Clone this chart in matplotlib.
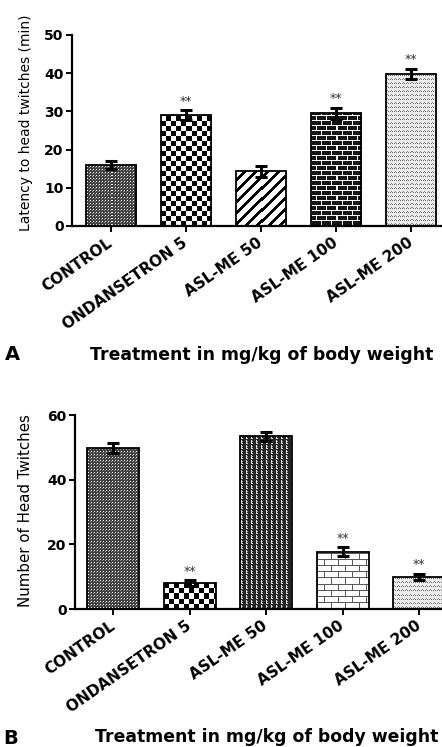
import matplotlib
matplotlib.use("Agg")
import matplotlib.pyplot as plt
import numpy as np

# data
groups = ["CONTROL", "ONDANSETRON 5", "ASL-ME 50", "ASL-ME 100", "ASL-ME 200"]

latency_mean = [16.0, 29.0, 14.3, 29.5, 39.8]
latency_sem = [1.0, 1.3, 1.5, 1.5, 1.4]
latency_sig = ["", "**", "", "**", "**"]

twitch_mean = [49.7, 8.1, 53.4, 17.7, 10.0]
twitch_sem = [1.5, 0.9, 1.4, 1.4, 0.9]
twitch_sig = ["", "**", "", "**", "**"]

patterns_a = ["fine", "checker", "diag", "brick_dark", "wavy"]
patterns_b = ["fine", "checker", "dark_e", "brick_light", "wavy"]


def texture(kind, h, w):
    yy, xx = np.mgrid[0:h, 0:w]
    if kind == "fine":
        img = np.full((h, w), 0.25)
        img[((yy % 3) == 1) & ((xx % 3) == 1)] = 1.0
        img[((yy % 3) == 0) & ((xx % 3) == 0)] = 0.55
    elif kind == "checker":
        img = (((yy // 5) + (xx // 5)) % 2).astype(float)
    elif kind == "diag":
        img = np.where(((yy - xx) % 11) < 4, 0.0, 1.0)
    elif kind == "brick_dark":
        img = np.full((h, w), 0.08)
        img[(yy % 5) == 0] = 1.0
        row = yy // 5
        img[((yy % 5) != 0) & (((xx + (row % 2) * 5) % 10) == 0)] = 1.0
    elif kind == "brick_light":
        img = np.full((h, w), 1.0)
        img[(yy % 6) == 0] = 0.35
        row = yy // 6
        img[((yy % 6) != 0) & (((xx + (row % 2) * 7) % 14) == 0)] = 0.35
    elif kind == "dark_e":
        img = np.full((h, w), 0.15)
        img[((xx % 5) == 1) & ((yy % 5) != 4)] = 0.85
        img[((yy % 5) == 0) & ((xx % 5) == 2)] = 0.85
        img[((yy % 5) == 2) & ((xx % 5) == 2)] = 0.6
    else:  # wavy light dots
        img = np.full((h, w), 0.92)
        img[((yy % 4) == 1) & ((xx % 4) == 0)] = 0.45
        img[((yy % 4) == 2) & ((xx % 4) == 1)] = 0.55
        img[((yy % 4) == 1) & ((xx % 4) == 2)] = 0.45
    return img


def draw_panel(ax, means, sems, sig, patterns, ymax, yticks, bar_w, xlim):
    x = np.arange(len(groups))
    ax.set_xlim(*xlim)
    ax.set_ylim(0, ymax)
    bars = ax.bar(x, means, width=bar_w, facecolor="none", edgecolor="black",
                  linewidth=1.3, zorder=2)
    for b, pat in zip(bars, patterns):
        x0, y0, w, h = b.get_x(), b.get_y(), b.get_width(), b.get_height()
        p0 = ax.transData.transform((x0, y0))
        p1 = ax.transData.transform((x0 + w, y0 + h))
        nw = max(int(round(p1[0] - p0[0])), 1)
        nh = max(int(round(p1[1] - p0[1])), 1)
        im = ax.imshow(texture(pat, nh, nw), cmap="gray", vmin=0, vmax=1,
                       extent=(x0, x0 + w, y0, y0 + h), origin="lower",
                       interpolation="nearest", aspect="auto", zorder=1)
        im.set_clip_path(b)
    ax.errorbar(x, means, yerr=sems, fmt="none", ecolor="black", elinewidth=2.2,
                capsize=4, capthick=2.2, zorder=3)
    for xi, m, s, t in zip(x, means, sems, sig):
        if t:
            ax.text(xi, m + s + ymax * 0.012, t, ha="center", va="bottom",
                    fontsize=9, color="#333333")
    ax.set_xlim(*xlim)
    ax.set_ylim(0, ymax)
    ax.set_yticks(yticks)
    ax.set_yticklabels([str(v) for v in yticks], fontsize=10, fontweight="bold")
    ax.set_xticks(x)
    ax.set_xticklabels(groups, rotation=35, ha="right", va="center",
                       rotation_mode="anchor", fontsize=11, fontweight="bold")
    for sp in ["top", "right"]:
        ax.spines[sp].set_visible(False)
    for sp in ["left", "bottom"]:
        ax.spines[sp].set_linewidth(1.6)
    ax.tick_params(axis="both", direction="out", length=4, width=1.4)
    ax.tick_params(axis="x", pad=7)
    ax.tick_params(axis="y", pad=2)


fig = plt.figure(figsize=(4.42, 7.47), dpi=100)

ax_a = fig.add_axes([0.163, 0.6975, 0.837, 0.2557])
draw_panel(ax_a, latency_mean, latency_sem, latency_sig, patterns_a,
           50, [0, 10, 20, 30, 40, 50], 0.667, (-0.52, 4.41))
ax_a.set_ylabel("Latency to head twitches (min)", fontsize=10)
ax_a.yaxis.set_label_coords(-0.105, 0.54)

ax_b = fig.add_axes([0.1697, 0.1847, 0.8303, 0.2597])
draw_panel(ax_b, twitch_mean, twitch_sem, twitch_sig, patterns_b,
           60, [0, 20, 40, 60], 0.68, (-0.50, 4.30))
ax_b.set_ylabel("Number of Head Twitches", fontsize=10.8)
ax_b.yaxis.set_label_coords(-0.114, 0.505)

fig.text(0.592, 1 - 355 / 747, "Treatment in mg/kg of body weight",
         ha="center", va="center", fontsize=12.4, fontweight="bold")
fig.text(0.604, 1 - 737 / 747, "Treatment in mg/kg of body weight",
         ha="center", va="center", fontsize=12.4, fontweight="bold")
fig.text(5 / 442, 1 - 355 / 747, "A", ha="left", va="center",
         fontsize=14, fontweight="bold")
fig.text(3 / 442, 1 - 738 / 747, "B", ha="left", va="center",
         fontsize=14, fontweight="bold")

fig.savefig("out.png", dpi=100)
